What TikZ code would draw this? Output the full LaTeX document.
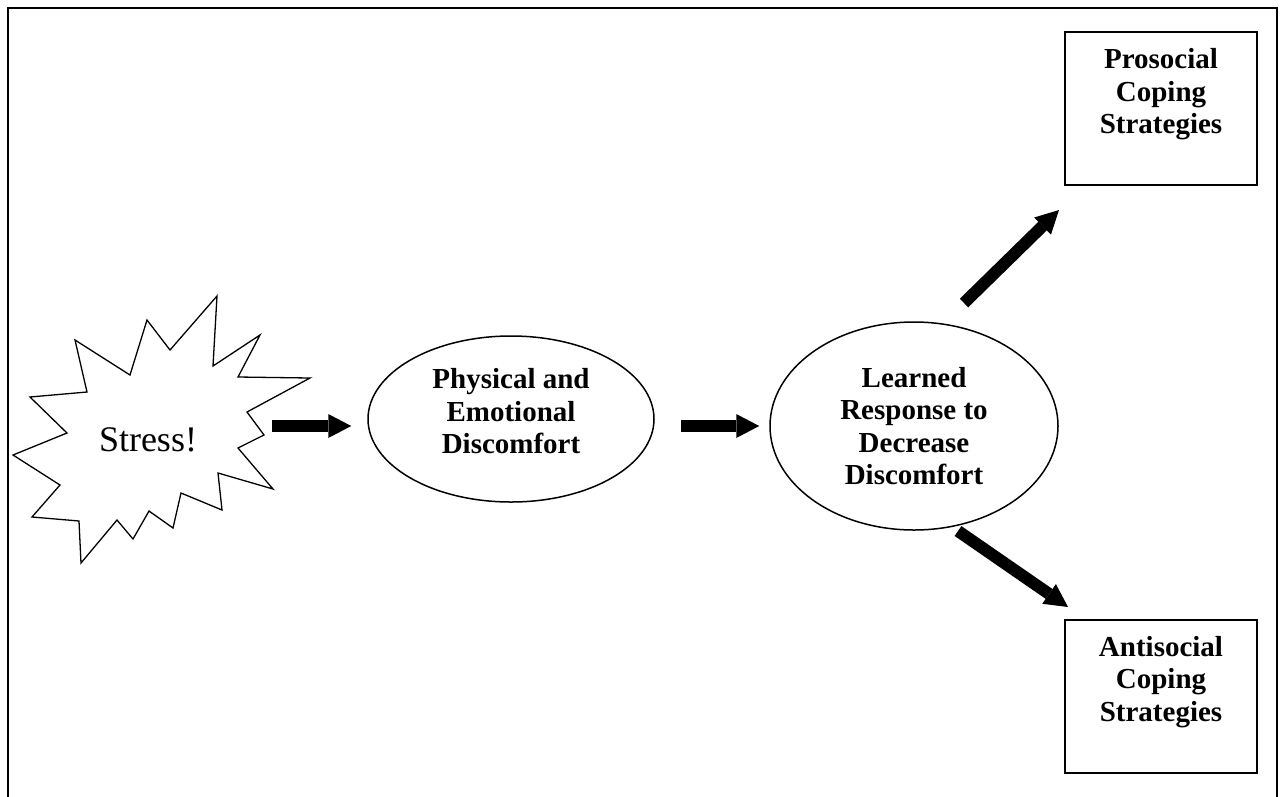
\documentclass[tikz,border=0pt]{standalone}
\usepackage{fontspec}
\setmainfont{Liberation Serif}
\usetikzlibrary{shapes.geometric,arrows.meta,positioning}

\newcommand{\boxlines}[1]{\parbox[t][120pt][t]{180pt}{\centering\fontsize{29}{32.5}\selectfont\bfseries #1}}

\begin{document}
\begin{tikzpicture}[
    x=1pt, y=-1pt,
    oval/.style={ellipse, draw, line width=1.5pt, inner sep=0pt, align=center, font=\fontsize{29}{32.5}\selectfont\bfseries},
    outcome/.style={rectangle, draw, line width=2pt, inner xsep=6pt, inner ysep=16.5pt},
    fat/.style={line width=12pt, -{Triangle[width=24pt, length=23pt, line width=0pt]}}
]

\useasboundingbox (0,0) rectangle (1281,796);
\draw[line width=2pt] (8,806) -- (8,8) -- (1277,8) -- (1277,806);

% Stress burst
\draw[line width=1.3pt] (217,296) -- (213,366) -- (260,335) -- (238,377) -- (310,378)
  -- (247,412) -- (264,435) -- (238,448) -- (273,489) -- (218,473) -- (222,510)
  -- (181,493) -- (173,528) -- (149,511) -- (133,539) -- (117,520) -- (81,563)
  -- (79,521) -- (32,517) -- (60,485) -- (13,455) -- (67,433) -- (30,397)
  -- (87,392) -- (75,340) -- (130,375) -- (147,320) -- (170,350) -- cycle;
\node[font=\fontsize{36}{40}\selectfont, inner sep=0pt] (stress) at (148,440) {Stress!};

\node[oval, minimum width=286pt, minimum height=166pt] (phys) at (511,419) {Physical and\\Emotional\\Discomfort\rule[-16pt]{0pt}{16pt}};
\node[oval, minimum width=288pt, minimum height=208pt] (learn) at (914,426) {Learned\\Response to\\Decrease\\Discomfort};

\node[outcome] (pro) at (1161,108.5) {\boxlines{Prosocial\\Coping\\Strategies}};
\node[outcome] (anti) at (1161,696) {\boxlines{Antisocial\\Coping\\Strategies}};

% Arrows
\coordinate (tail1) at (272,426);
\coordinate (upfrom) at (964,303);
\coordinate (upto) at (1059,210);
\coordinate (downfrom) at (958,531);
\coordinate (downto) at (1068,607);

\draw[fat, shorten >=16pt] (tail1) -- (tail1 -| phys.west);
\draw[fat, shorten <=26pt, shorten >=10pt] (phys.east |- learn.west) -- (learn.west);
\draw[fat] (upfrom) -- (upto);
\draw[fat] (downfrom) -- (downto);

\end{tikzpicture}
\end{document}
